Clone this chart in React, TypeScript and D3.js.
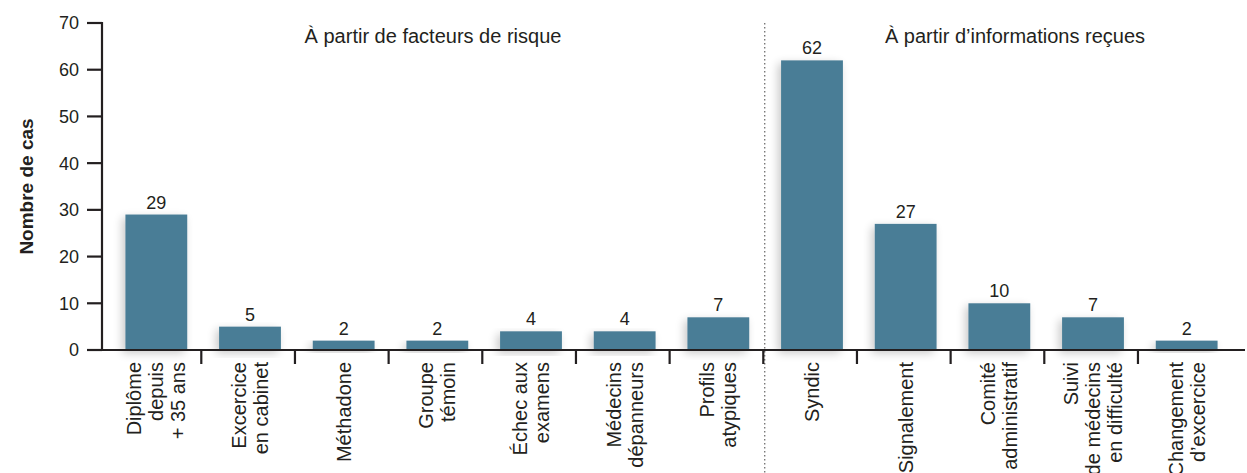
import React from "react";
import * as d3 from "d3";

const categories: string[] = [
  "Diplôme\ndepuis\n+ 35 ans",
  "Excercice\nen cabinet",
  "Méthadone",
  "Groupe\ntémoin",
  "Échec aux\nexamens",
  "Médecins\ndépanneurs",
  "Profils\natypiques",
  "Syndic",
  "Signalement",
  "Comité\nadministratif",
  "Suivi\nde médecins\nen difficulté",
  "Changement\nd’excercice",
];
const values: number[] = [29, 5, 2, 2, 4, 4, 7, 62, 27, 10, 7, 2];
const yTicks: number[] = [0, 10, 20, 30, 40, 50, 60, 70];
const groupLabels: string[] = ["À partir de facteurs de risque", "À partir d’informations reçues"];
const groupStarts: number[] = [0, 7];
const yTitle = "Nombre de cas";

const W = 1247;
const H = 473;
const FONT = "'Liberation Sans', Arial, sans-serif";
const INK = "#231f20";
const BAR = "#497d96";

export default function App() {
  const keys = categories.map((_, i) => String(i));
  const x = d3
    .scaleBand<string>()
    .domain(keys)
    .range([109.5, 1233.5])
    .paddingInner(0.34)
    .paddingOuter(0.17);
  const y = d3.scaleLinear().domain([0, 70]).range([350, 23]);
  const step = x.step();
  const boundary = (i: number) => (x(String(i)) as number) - step * 0.19;
  const center = (i: number) => (x(String(i)) as number) + x.bandwidth() / 2;
  const axisX = 102;
  const dividerX = boundary(groupStarts[1]) + 1.5;
  const groupX = [433, 1015];

  return (
    <svg
      width={W}
      height={H}
      style={{ position: "absolute", left: 0, top: 0, display: "block" }}
      fontFamily={FONT}
    >
      <defs>
        <filter id="shadow" x="-30%" y="-30%" width="160%" height="160%">
          <feGaussianBlur in="SourceAlpha" stdDeviation="5" />
          <feOffset dx="-3" dy="3" result="blur" />
          <feComponentTransfer>
            <feFuncA type="linear" slope="0.22" />
          </feComponentTransfer>
          <feMerge>
            <feMergeNode />
            <feMergeNode in="SourceGraphic" />
          </feMerge>
        </filter>
      </defs>
      <rect width={W} height={H} fill="#ffffff" />

      {/* divider */}
      <line
        x1={dividerX}
        x2={dividerX}
        y1={23}
        y2={H}
        stroke="#444"
        strokeWidth={1}
        strokeDasharray="1.5 2.5"
      />

      {/* bars */}
      {values.map((v, i) => (
        <g key={i}>
          <rect
            x={x(String(i))}
            y={y(v)}
            width={x.bandwidth()}
            height={y(0) - y(v)}
            fill={BAR}
            filter="url(#shadow)"
          />
          <text
            x={center(i)}
            y={y(v) - 6}
            textAnchor="middle"
            fontSize={18}
            fill={INK}
          >
            {v}
          </text>
        </g>
      ))}

      {/* x axis */}
      <line x1={axisX - 1} x2={1245} y1={y(0)} y2={y(0)} stroke={INK} strokeWidth={2.2} />
      {categories.slice(1).map((_, k) => {
        const bx = boundary(k + 1);
        return (
          <line key={k} x1={bx} x2={bx} y1={y(0)} y2={y(0) + 14} stroke={INK} strokeWidth={2.2} />
        );
      })}
      {categories.map((c, i) => {
        const lines = c.split("\n");
        const n = lines.length;
        return (
          <g key={i}>
            {lines.map((ln, j) => {
              const bx = center(i) + (j - (n - 1) / 2) * 22 + 7;
              return (
                <text
                  key={j}
                  transform={`translate(${bx},${362}) rotate(-90)`}
                  textAnchor="end"
                  fontSize={20}
                  fill={INK}
                >
                  {ln}
                </text>
              );
            })}
          </g>
        );
      })}

      {/* y axis */}
      <line x1={axisX} x2={axisX} y1={y(70) - 1} y2={y(0) + 1} stroke={INK} strokeWidth={2.2} />
      {yTicks.map((t) => (
        <g key={t}>
          <line x1={axisX - 15} x2={axisX} y1={y(t)} y2={y(t)} stroke={INK} strokeWidth={2.2} />
          <text x={axisX - 23} y={y(t)} dy="0.36em" textAnchor="end" fontSize={18} fill={INK}>
            {t}
          </text>
        </g>
      ))}
      <text
        transform={`translate(${33},${(y(0) + y(70)) / 2}) rotate(-90)`}
        textAnchor="middle"
        fontSize={19}
        fontWeight="bold"
        fill={INK}
      >
        {yTitle}
      </text>

      {/* group headers */}
      {groupLabels.map((g, k) => (
        <text
          key={k}
          x={groupX[k]}
          y={43}
          textAnchor="middle"
          fontSize={20}
          fill={INK}
        >
          {g}
        </text>
      ))}
    </svg>
  );
}
